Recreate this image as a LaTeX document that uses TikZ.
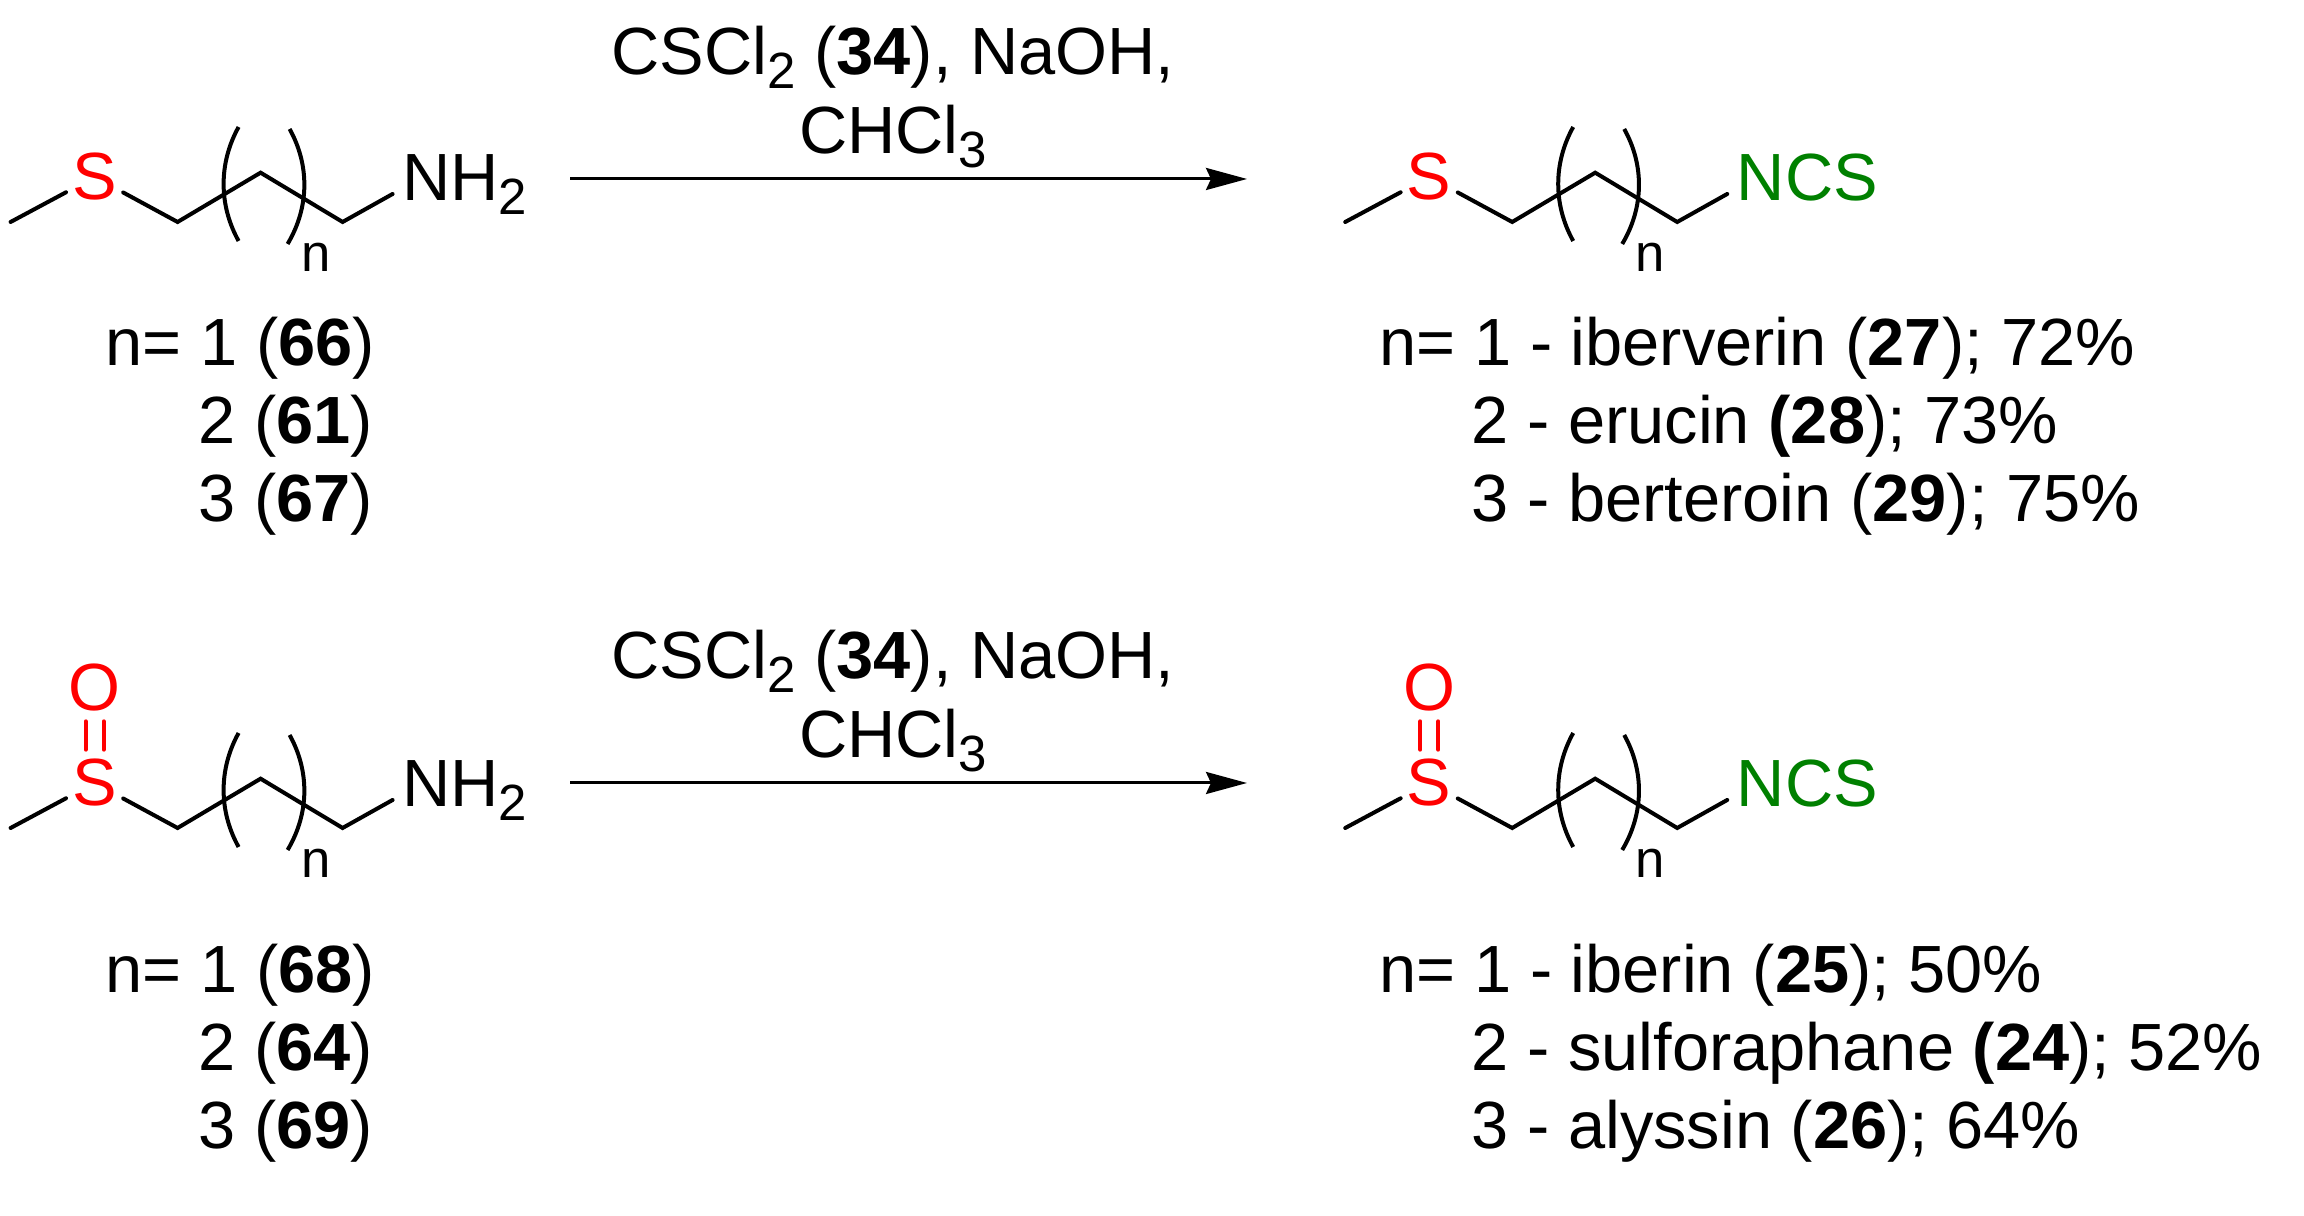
\documentclass[tikz,border=0pt]{standalone}
\usepackage{fontspec}
\usepackage{xcolor}
\usepackage{tikz}
\usetikzlibrary{arrows.meta}
\setmainfont{Liberation Sans}
\definecolor{atomred}{RGB}{255,0,0}
\definecolor{atomgreen}{RGB}{0,128,0}
\newcommand{\lowsub}[1]{\raisebox{-0.14cm}{\fontsize{14.5}{16}\selectfont #1}}
\tikzset{
 bond/.style={line width=0.04cm,line cap=round},
 atom/.style={inner xsep=0.056cm,inner ysep=0.09cm,text=atomred},
 txt/.style={anchor=base west,inner sep=0pt},
 reagent/.style={anchor=base,inner sep=0pt,align=center},
 rxn/.style={line width=0.03cm,-{Stealth[length=0.41cm,width=0.22cm,inset=0.05cm]}}
}
\begin{document}
\begin{tikzpicture}[font=\fontsize{19}{23}\selectfont]
 \useasboundingbox (0,0) rectangle (23.04,12.16);

\foreach \nm/\sx/\sy/\tail/\tailcol in {a/0.946/10.39/NH\lowsub{2}/black, b/14.292/10.39/NCS/atomgreen, c/0.946/4.33/NH\lowsub{2}/black, d/14.292/4.33/NCS/atomgreen}{
 \begin{scope}[shift={(\sx,\sy)}]
 \coordinate (m\nm) at (-0.84,-0.45);
 \coordinate (c1\nm) at (0.83,-0.45);
 \coordinate (c2\nm) at (1.66,0.043);
 \coordinate (c3\nm) at (2.48,-0.45);

 \node [atom] (S\nm) at (0,0) {S};
 \node [anchor=base west,inner sep=0pt,text=\tailcol] (T\nm) at (3.07,-0.24) {\tail};
 \node [anchor=base west,inner sep=0pt,font=\fontsize{15}{18}\selectfont] (n\nm) at (2.06,-0.95) {n};

 \draw[bond] (m\nm)--(S\nm)--(c1\nm)--(c2\nm)--(c3\nm)--([xshift=-0.09cm,yshift=0.07cm]T\nm.base west);

 \draw[bond,line cap=butt] (1.44,0.50) .. controls (1.24,0.14) and (1.24,-0.28) .. (1.44,-0.64);
 \draw[bond,line cap=butt] (1.95,0.48) .. controls (2.15,0.12) and (2.15,-0.30) .. (1.93,-0.67);
 \end{scope}
}

% sulfoxide oxygens
\node [atom] (Oc) at (0.946,5.28) {O};
\node [atom] (Od) at (14.292,5.28) {O};
\draw[bond,atomred] ([xshift=-0.09cm]Oc.south)--([xshift=-0.09cm]Sc.north);
\draw[bond,atomred] ([xshift=0.09cm]Oc.south)--([xshift=0.09cm]Sc.north);
\draw[bond,atomred] ([xshift=-0.09cm]Od.south)--([xshift=-0.09cm]Sd.north);
\draw[bond,atomred] ([xshift=0.09cm]Od.south)--([xshift=0.09cm]Sd.north);

% arrows
\coordinate (r1a) at (5.70,10.37);
\coordinate (r1b) at (12.47,10.37);
\coordinate (r2a) at (5.70,4.33);
\coordinate (r2b) at (12.47,4.33);
\draw[rxn] (r1a)--(r1b);
\draw[rxn] (r2a)--(r2b);

\node [reagent] (g1) at (8.93,11.41) {CSCl\lowsub{2} (\textbf{34}), NaOH,};
\node [reagent] (g2) at (8.93,10.62) {CHCl\lowsub{3}};
\node [reagent] (g3) at (8.93,5.37) {CSCl\lowsub{2} (\textbf{34}), NaOH,};
\node [reagent] (g4) at (8.93,4.58) {CHCl\lowsub{3}};

% lists
\node [txt] (l1) at (1.05,8.50) {n= 1 (\textbf{66})};
\node [txt] (l2) at (1.98,7.72) {2 (\textbf{61})};
\node [txt] (l3) at (1.98,6.94) {3 (\textbf{67})};
\node [txt] (l4) at (1.05,2.23) {n= 1 (\textbf{68})};
\node [txt] (l5) at (1.98,1.45) {2 (\textbf{64})};
\node [txt] (l6) at (1.98,0.67) {3 (\textbf{69})};

\node [txt] (p1) at (13.79,8.50) {n= 1 - iberverin (\textbf{27}); 72\%};
\node [txt] (p2) at (14.71,7.72) {2 - erucin \textbf{(28}); 73\%};
\node [txt] (p3) at (14.71,6.94) {3 - berteroin (\textbf{29}); 75\%};
\node [txt] (p4) at (13.79,2.23) {n= 1 - iberin (\textbf{25}); 50\%};
\node [txt] (p5) at (14.71,1.45) {2 - sulforaphane \textbf{(24}); 52\%};
\node [txt] (p6) at (14.71,0.67) {3 - alyssin (\textbf{26}); 64\%};

\end{tikzpicture}
\end{document}
